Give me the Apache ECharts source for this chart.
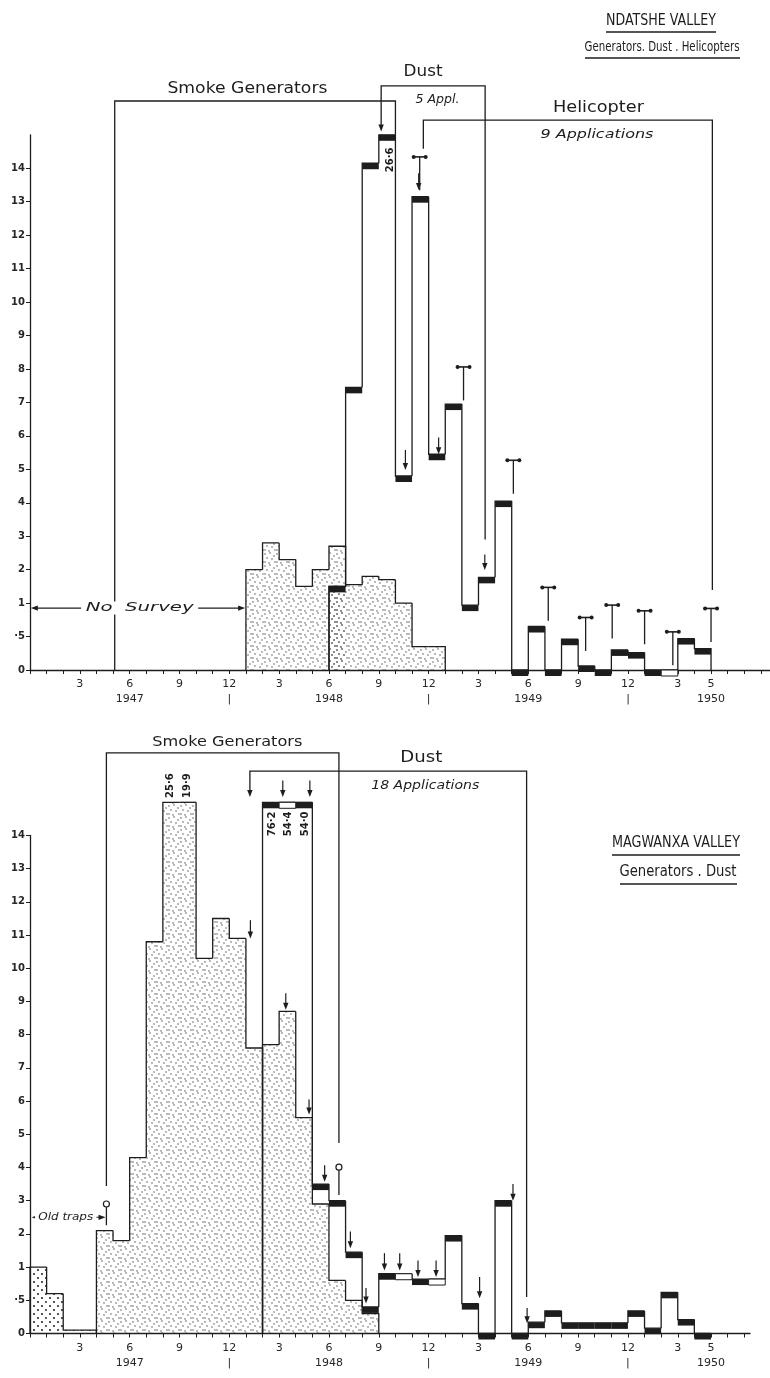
<!DOCTYPE html>
<html><head><meta charset="utf-8">
<script src="https://cdn.jsdelivr.net/npm/echarts@6/dist/echarts.min.js"></script>
<style>html,body{margin:0;padding:0;background:#fff;}#c{width:770px;height:1378px;}</style>
</head><body><div id="c"></div>
<script>
// ================= DATA =================
// time axis: month index t, t=1 -> Jan 1947 (t=0 at the y axis)
const monthLabelAt   = [3, 6, 9, 12, 15, 18, 21, 24, 27, 30, 33, 36, 39, 41];
const monthLabels    = ['3','6','9','12','3','6','9','12','3','6','9','12','3','5'];
const yearLabelAt    = [6, 12, 18, 24, 30, 36, 41];
const yearLabels     = ['1947','|','1948','|','1949','|','1950'];
const yTickLabels    = ['0','·5','1','2','3','4','5','6','7','8','9','10','11','12','13','14'];

// NDATSHE VALLEY
const ndSurveyAStart = 13;
const ndSurveyA = [2.0, 2.8, 2.3, 1.5, 2.0, 2.7];
const ndSurveyBStart = 18;
const ndSurveyB = [1.5, 1.55, 1.8, 1.7, 1.0, 0.35, 0.35];
const ndCatchStart = 18;
const ndCatch = [1.5, 7.45, 14.15, 26.6, 4.8, 13.15, 5.45, 6.95, 0.97, 1.77, 4.05, 0, 0.65, 0, 0.46, 0.06, 0, 0.3, 0.26, 0, 0, 0.47, 0.32];
const ndDustTimes = [21.14, 22.6, 23.4, 24.6, 27.38];
const ndHeliTimes = [23.46, 26.1, 29.1, 31.2, 33.45, 35.05, 37.0, 38.7, 41.0];

// MAGWANXA VALLEY
const mgOldTrapsStart = 0;
const mgOldTraps = [1.0, 0.6, 0.05, 0.05];
const mgSurveyAStart = 4;
const mgSurveyA = [2.1, 1.8, 4.3, 10.8, 25.6, 19.9, 10.3, 11.5, 10.9, 7.6];
const mgSurveyBStart = 14;
const mgSurveyB = [7.7, 8.7, 5.5, 2.9, 0.8, 0.5, 0.3];
const mgCatchStart = 14;
const mgCatch = [76.2, 54.4, 54.0, 3.5, 3.0, 1.45, 0.4, 0.9, 0.9, 0.82, 0.82, 1.95, 0.45, 0, 3.0, 0, 0.17, 0.34, 0.16, 0.16, 0.16, 0.16, 0.34, 0.08, 0.62, 0.21, 0];
const mgDustTimes = [13.24, 15.22, 16.85, 13.27, 15.4, 16.8, 17.74, 19.29, 20.23, 21.34, 22.26, 23.36, 24.45, 27.07, 29.08, 29.93];
const mgGenTimes = [4.6, 18.6];

// ================= STYLE / LAYOUT =================
const INK = '#1d1d1d';
const LW = 1.3;
const BAND = 6;
const FF = "'DejaVu Sans', sans-serif";
const CLIP = 16;
// vertical scale of the original: 0, ·5, 1, 2 ... 14 equally spaced
const S = v => (v <= 1 ? 2 * v : v + 1);
const Lv = v => Math.min(S(v), CLIP);

const mctx = document.createElement('canvas').getContext('2d');
function fitScale(text, font, w) { if (!w) return 1; mctx.font = font; return w / mctx.measureText(text).width; }

function dotPattern(w, h, dots, r, color) {
  const cv = document.createElement('canvas'); cv.width = w; cv.height = h;
  const g = cv.getContext('2d'); g.fillStyle = color;
  dots.forEach(d => { g.beginPath(); g.arc(d[0], d[1], r, 0, Math.PI * 2); g.fill(); });
  return { image: cv, repeat: 'repeat' };
}
const fineDots = dotPattern(12, 12, [[1,2],[6,1],[10,4],[3,6],[8,7],[1,10],[5,11],[11,10]], 0.65, '#3a3a3a');
const coarseDots = dotPattern(8, 8, [[2,2],[6,6]], 1.05, '#2a2a2a');

function stepSeries(gi, start, vals, opt) {
  opt = opt || {};
  return {
    type: 'custom', xAxisIndex: gi, yAxisIndex: gi, clip: false, silent: true,
    data: vals.map((v, i) => [start + i, v]),
    encode: { x: 0, y: 1 },
    renderItem: function (params, api) {
      const i = params.dataIndex;
      const t0 = start + i, t1 = t0 + 1;
      const L = Lv(vals[i]);
      const prev = i === 0 ? 0 : Lv(vals[i - 1]);
      const p00 = api.coord([t0, 0]), p11 = api.coord([t1, L]);
      const kids = [];
      if (opt.fill) kids.push({ type: 'rect', z2: 1, shape: { x: p00[0], y: p11[1], width: p11[0] - p00[0], height: p00[1] - p11[1] }, style: { fill: opt.fill } });
      if (opt.band) {
        const open = (opt.open || []).indexOf(t0) >= 0;
        kids.push({ type: 'rect', z2: 12, shape: { x: p00[0], y: p11[1], width: p11[0] - p00[0], height: BAND },
          style: open ? { fill: '#fff', stroke: INK, lineWidth: 1 } : { fill: INK } });
      }
      const pts = [api.coord([t0, prev]), api.coord([t0, L]), api.coord([t1, L])];
      if (i === vals.length - 1) pts.push(api.coord([t1, opt.endTo != null ? opt.endTo : 0]));
      kids.push({ type: 'polyline', z2: 10, shape: { points: pts }, style: { stroke: INK, lineWidth: LW, fill: null } });
      return { type: 'group', children: kids };
    }
  };
}

function annotSeries(gi, draw) {
  return {
    type: 'custom', xAxisIndex: gi, yAxisIndex: gi, clip: false, silent: true, z: 3,
    data: [[0, 0]], encode: { x: 0, y: 1 },
    renderItem: function (params, api) {
      const out = [];
      draw((t, s) => api.coord([t, s]), out);
      return { type: 'group', children: out };
    }
  };
}
function ln(out, a, b, w) { out.push({ type: 'line', z2: 20, shape: { x1: a[0], y1: a[1], x2: b[0], y2: b[1] }, style: { stroke: INK, lineWidth: w || LW } }); }
function headDown(out, p) { out.push({ type: 'polygon', z2: 20, shape: { points: [[p[0] - 2.7, p[1] - 7], [p[0] + 2.7, p[1] - 7], [p[0], p[1]]] }, style: { fill: INK } }); }
function headH(out, p, dir) { out.push({ type: 'polygon', z2: 20, shape: { points: [[p[0] - dir * 7, p[1] - 2.6], [p[0] - dir * 7, p[1] + 2.6], [p[0], p[1]]] }, style: { fill: INK } }); }
function arrow(c, out, t, sHead, len) { const h = c(t, sHead), tp = c(t, sHead + len); ln(out, tp, [h[0], h[1] - 5], 1.2); headDown(out, h); }
function bracket(c, out, t0, t1, sTop, sL, sR, arrowLeft) {
  const pts = [c(t0, sL), c(t0, sTop), c(t1, sTop), c(t1, sR)];
  if (arrowLeft) pts[0] = [pts[0][0], pts[0][1] - 5];
  out.push({ type: 'polyline', z2: 20, shape: { points: pts }, style: { stroke: INK, lineWidth: LW, fill: null } });
  if (arrowLeft) headDown(out, c(t0, sL));
}
function heliPin(c, out, t, sTop) {
  const p = c(t, sTop), b = c(t, sTop - 1);
  ln(out, p, b, 1.3); ln(out, [p[0] - 6, p[1]], [p[0] + 6, p[1]], 1.6);
  [-6, 6].forEach(dx => out.push({ type: 'circle', z2: 20, shape: { cx: p[0] + dx, cy: p[1], r: 2 }, style: { fill: INK } }));
}
function genPin(c, out, t, sTop, len) {
  const p = c(t, sTop), b = c(t, sTop - len);
  out.push({ type: 'circle', z2: 20, shape: { cx: p[0], cy: p[1], r: 3 }, style: { fill: '#fff', stroke: INK, lineWidth: 1.2 } });
  ln(out, [p[0], p[1] + 3], b, 1.3);
}
function txt(c, out, t, s, text, font, w, rot, bg) {
  const p = c(t, s);
  const st = { text: text, font: font, fill: INK, textAlign: 'center', textVerticalAlign: 'middle' };
  if (bg) { st.backgroundColor = '#fff'; st.padding = [0, 3]; }
  out.push({ type: 'text', z2: 25, x: p[0], y: p[1], rotation: rot || 0, scaleX: fitScale(text, font, w), style: st });
}
function range(c, out, t0, t1, s) {
  const a = c(t0, s), b = c(t1, s);
  ln(out, [a[0] + 5, a[1]], [b[0] - 5, b[1]], 1.1); headH(out, a, -1); headH(out, b, 1);
}
const fmtVal = v => v.toFixed(1).replace('.', '·');

// ---------- annotations: Ndatshe ----------
function ndAnnot(c, out) {
  bracket(c, out, 5.1, 22.0, 17.01, 0, 16.0, false);            // smoke generators
  bracket(c, out, ndDustTimes[0], 27.4, 17.46, 16.1, 3.9, true); // dust
  bracket(c, out, 23.68, 41.08, 16.44, 15.58, 2.39, false);      // helicopter
  const dustHeads = [null, 5.98, 14.35, 6.45, 2.99];
  const dustLen = [0, 0.6, 0.5, 0.5, 0.46];
  for (let i = 1; i < ndDustTimes.length; i++) arrow(c, out, ndDustTimes[i], dustHeads[i], dustLen[i]);
  const heliTops = [15.34, 9.06, 6.27, 2.47, 1.57, 1.94, 1.77, 1.14, 1.84];
  ndHeliTimes.forEach((t, i) => heliPin(c, out, t, heliTops[i]));
  txt(c, out, 13.09, 17.37, 'Smoke Generators', '15px ' + FF, 160);
  txt(c, out, 23.66, 17.86, 'Dust', '15px ' + FF, 39);
  txt(c, out, 24.53, 17.03, '5 Appl.', 'italic 12px ' + FF, 44);
  txt(c, out, 34.22, 16.80, 'Helicopter', '15px ' + FF, 91);
  txt(c, out, 34.13, 16.02, '9 Applications', 'italic 13px ' + FF, 113);
  range(c, out, 0.05, 12.95, 1.85);
  txt(c, out, 6.6, 1.85, 'No  Survey', 'italic 13px ' + FF, 108, 0, true);
  ndCatch.forEach((v, i) => { if (S(v) > CLIP) txt(c, out, ndCatchStart + i + 0.7, 15.25, fmtVal(v), 'bold 10px ' + FF, null, Math.PI / 2); });
}
// ---------- annotations: Magwanxa ----------
function mgAnnot(c, out) {
  bracket(c, out, 4.6, 18.6, 17.49, 4.44, 5.74, false);             // smoke generators
  bracket(c, out, mgDustTimes[0], 29.9, 16.94, 16.16, 1.1, true);  // dust
  const heads = [null, 16.16, 16.16, 11.9, 9.75, 6.6, 4.57, 2.57, 0.9, 1.9, 1.9, 1.7, 1.7, 1.06, 4.0, 0.31];
  const lens  = [0, 0.5, 0.5, 0.55, 0.5, 0.45, 0.5, 0.5, 0.47, 0.52, 0.52, 0.5, 0.5, 0.64, 0.5, 0.46];
  for (let i = 1; i < mgDustTimes.length; i++) arrow(c, out, mgDustTimes[i], heads[i], lens[i]);
  genPin(c, out, mgGenTimes[0], 3.9, 0.64);
  genPin(c, out, mgGenTimes[1], 5.01, 0.84);
  range(c, out, 0.1, 4.55, 3.5);
  txt(c, out, 2.15, 3.5, 'Old traps', 'italic 11px ' + FF, 55, 0, true);
  txt(c, out, 11.88, 17.82, 'Smoke Generators', '14px ' + FF, 150);
  txt(c, out, 23.56, 17.32, 'Dust', '15px ' + FF, 42);
  txt(c, out, 23.8, 16.5, '18 Applications', 'italic 12px ' + FF, 108);
  mgSurveyA.forEach((v, i) => { if (S(v) > CLIP) txt(c, out, mgSurveyAStart + i + 0.45, 16.5, fmtVal(v), 'bold 10px ' + FF, null, Math.PI / 2); });
  mgCatch.forEach((v, i) => { if (S(v) > CLIP) txt(c, out, mgCatchStart + i + 0.58, 15.35, fmtVal(v), 'bold 10px ' + FF, null, Math.PI / 2); });
}

// ---------- axes ----------
function xAx(gi, max) {
  const ticks = []; for (let t = 0; t <= max; t++) ticks.push(t);
  return {
    type: 'value', gridIndex: gi, min: 0, max: max,
    axisLine: { show: true, onZero: true, lineStyle: { color: INK, width: 1.3 } },
    axisTick: { show: true, customValues: ticks, length: 4, lineStyle: { color: INK, width: 1 } },
    axisLabel: {
      customValues: monthLabelAt, margin: 7, color: '#262626', fontSize: 11, fontFamily: FF, lineHeight: 15,
      formatter: function (v) {
        const m = monthLabels[monthLabelAt.indexOf(v)] || '';
        const yi = yearLabelAt.indexOf(v);
        return yi >= 0 ? m + '\n' + yearLabels[yi] : m;
      }
    },
    splitLine: { show: false }
  };
}
function yAx(gi, max) {
  const ticks = yTickLabels.map((_, i) => i);
  return {
    type: 'value', gridIndex: gi, min: 0, max: max,
    axisLine: { show: true, onZero: false, lineStyle: { color: INK, width: 1.3 } },
    axisTick: { show: true, customValues: ticks, length: 4, lineStyle: { color: INK, width: 1 } },
    axisLabel: { customValues: ticks, margin: 5, color: '#262626', fontSize: 10, fontWeight: 'bold', fontFamily: FF,
      formatter: v => yTickLabels[Math.round(v)] },
    splitLine: { show: false }
  };
}

function titleText(x, y, text, font, w) {
  return { type: 'text', x: x, y: y, scaleX: fitScale(text, font, w),
    style: { text: text, font: font, fill: INK, textAlign: 'center', textVerticalAlign: 'middle' } };
}
function uline(x1, x2, y) { return { type: 'line', shape: { x1: x1, y1: y, x2: x2, y2: y }, style: { stroke: INK, lineWidth: 1.6 } }; }

const option = {
  animation: false,
  backgroundColor: '#ffffff',
  grid: [
    { left: 30, top: 670 - 16 * 33.45, width: 740, height: 16 * 33.45 },
    { left: 30, top: 1333.5 - 15 * 33.2, width: 720, height: 15 * 33.2 }
  ],
  xAxis: [xAx(0, 44.55), xAx(1, 43.35)],
  yAxis: [yAx(0, 16), yAx(1, 15)],
  graphic: [
    titleText(661, 21, 'NDATSHE VALLEY', '16px ' + FF, 110), uline(606, 716, 32),
    titleText(662, 47, 'Generators. Dust . Helicopters', '14px ' + FF, 155), uline(585, 740, 58),
    titleText(676, 843, 'MAGWANXA VALLEY', '16px ' + FF, 128), uline(612, 740, 855),
    titleText(678, 872, 'Generators . Dust', '15px ' + FF, 117), uline(620, 737, 884)
  ],
  series: [
    stepSeries(0, ndSurveyBStart, ndSurveyB, { fill: fineDots }),
    stepSeries(0, ndSurveyAStart, ndSurveyA, { fill: fineDots, endTo: Lv(ndSurveyB[1]) }),
    stepSeries(0, ndCatchStart, ndCatch, { band: true, open: [38] }),
    annotSeries(0, ndAnnot),
    stepSeries(1, mgOldTrapsStart, mgOldTraps, { fill: coarseDots }),
    stepSeries(1, mgSurveyAStart, mgSurveyA, { fill: fineDots }),
    stepSeries(1, mgSurveyBStart, mgSurveyB, { fill: fineDots }),
    stepSeries(1, mgCatchStart, mgCatch, { band: true, open: [15, 22, 24] }),
    annotSeries(1, mgAnnot)
  ]
};
const chart = echarts.init(document.getElementById('c'), null, { renderer: 'canvas' });
chart.setOption(option);
</script>
</body></html>
